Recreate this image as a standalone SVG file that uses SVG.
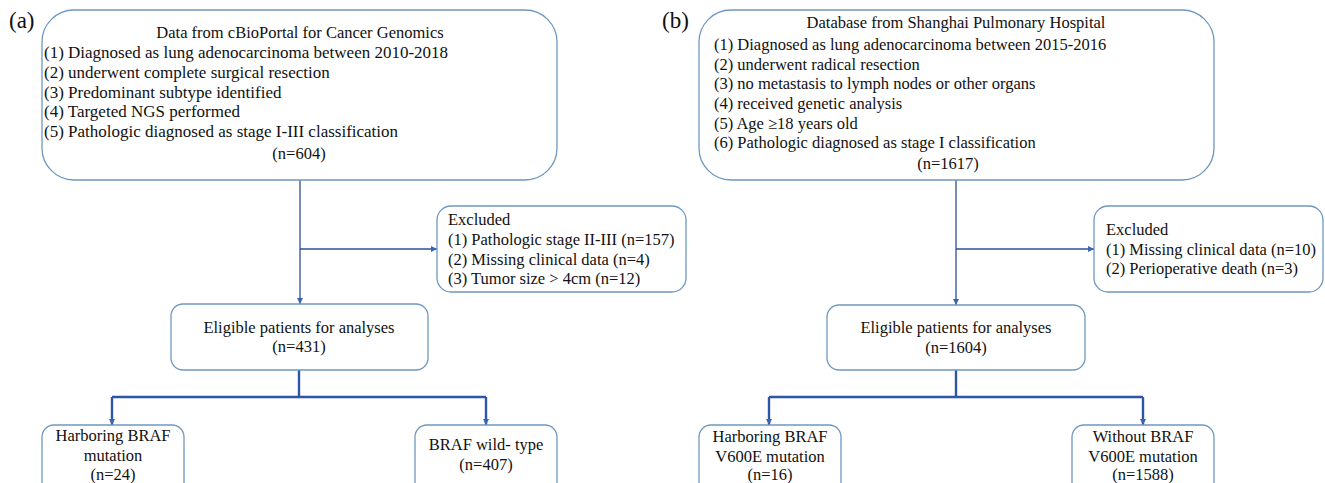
<svg xmlns="http://www.w3.org/2000/svg" width="1325" height="483" viewBox="0 0 1325 483">
<style>
text{font-family:"Liberation Serif","Times New Roman",serif;fill:#111;}
.t{font-size:16.5px;}
.tl{font-size:17px;}
.lab{font-size:23px;}
.c{text-anchor:middle;}
.box{fill:#fff;stroke:#6f98c0;stroke-width:1.3;}
.ln{fill:none;stroke:#2f4f9a;stroke-width:1.3;}
.br{fill:none;stroke:#2f55a8;stroke-width:2.4;}
</style>
<defs>
<marker id="ah" viewBox="0 0 10 10" refX="10" refY="5" markerWidth="6" markerHeight="6" markerUnits="userSpaceOnUse" orient="auto">
<path d="M0,0 L10,5 L0,10 z" fill="#3a62b5"/>
</marker>
</defs>
<rect width="1325" height="483" fill="#fff"/>
<text class="lab" x="9" y="28">(a)</text>
<text class="lab" x="662" y="28">(b)</text>

<g id="connectors">
<path class="ln" d="M300,180 V304" marker-end="url(#ah)"/>
<path class="ln" d="M300,249 H437" marker-end="url(#ah)"/>
<path class="br" d="M299,370 V397"/>
<path class="br" d="M112,397 H486"/>
<path class="br" d="M112,397 V425" marker-end="url(#ah)"/>
<path class="br" d="M486,397 V425" marker-end="url(#ah)"/>
<path class="ln" d="M956,180 V305" marker-end="url(#ah)"/>
<path class="ln" d="M956,249 H1094" marker-end="url(#ah)"/>
<path class="br" d="M956,370 V397"/>
<path class="br" d="M769,397 H1143"/>
<path class="br" d="M769,397 V425" marker-end="url(#ah)"/>
<path class="br" d="M1143,397 V425" marker-end="url(#ah)"/>
</g>

<g id="a-source">
<rect class="box" x="42" y="10" width="515" height="170" rx="32"/>
<text class="t c" x="300" y="38">Data from cBioPortal for Cancer Genomics</text>
<text class="tl" x="44" y="58">(1) Diagnosed as lung adenocarcinoma between 2010-2018</text>
<text class="tl" x="44" y="78">(2) underwent complete surgical resection</text>
<text class="tl" x="44" y="97.5">(3) Predominant subtype identified</text>
<text class="tl" x="44" y="117">(4) Targeted NGS performed</text>
<text class="tl" x="44" y="136.5">(5) Pathologic diagnosed as stage I-III classification</text>
<text class="t c" x="299" y="159">(n=604)</text>
</g>
<g id="a-excluded">
<rect class="box" x="437" y="206" width="249" height="86" rx="14"/>
<text class="t" x="448" y="225">Excluded</text>
<text class="t" x="448" y="245">(1) Pathologic stage II-III (n=157)</text>
<text class="t" x="448" y="264.5">(2) Missing clinical data (n=4)</text>
<text class="t" x="448" y="284">(3) Tumor size &gt; 4cm (n=12)</text>
</g>
<g id="a-eligible">
<rect class="box" x="171" y="304" width="257" height="66" rx="12"/>
<text class="t c" x="299" y="333">Eligible patients for analyses</text>
<text class="t c" x="299" y="352">(n=431)</text>
</g>
<g id="a-mut">
<rect class="box" x="42" y="425" width="142" height="70" rx="12"/>
<text class="t c" x="113" y="441">Harboring BRAF</text>
<text class="t c" x="113" y="461">mutation</text>
<text class="t c" x="113" y="480">(n=24)</text>
</g>
<g id="a-wild">
<rect class="box" x="415" y="425" width="142" height="70" rx="12"/>
<text class="t c" x="486" y="450">BRAF wild- type</text>
<text class="t c" x="486" y="470">(n=407)</text>
</g>

<g id="b-source">
<rect class="box" x="699" y="10" width="515" height="170" rx="32"/>
<text class="t c" x="956" y="28">Database from Shanghai Pulmonary Hospital</text>
<text class="t" x="714" y="50">(1) Diagnosed as lung adenocarcinoma between 2015-2016</text>
<text class="t" x="714" y="69.5">(2) underwent radical resection</text>
<text class="t" x="714" y="89">(3) no metastasis to lymph nodes or other organs</text>
<text class="t" x="714" y="109">(4) received genetic analysis</text>
<text class="t" x="714" y="128.5">(5) Age ≥18 years old</text>
<text class="t" x="714" y="148">(6) Pathologic diagnosed as stage I classification</text>
<text class="t c" x="948" y="169">(n=1617)</text>
</g>
<g id="b-excluded">
<rect class="box" x="1094" y="206" width="229" height="86" rx="14"/>
<text class="t" x="1106" y="235">Excluded</text>
<text class="t" x="1106" y="254.5">(1) Missing clinical data (n=10)</text>
<text class="t" x="1106" y="274">(2) Perioperative death (n=3)</text>
</g>
<g id="b-eligible">
<rect class="box" x="827" y="305" width="258" height="65" rx="12"/>
<text class="t c" x="956" y="333">Eligible patients for analyses</text>
<text class="t c" x="956" y="353">(n=1604)</text>
</g>
<g id="b-mut">
<rect class="box" x="699" y="425" width="142" height="70" rx="12"/>
<text class="t c" x="770" y="442">Harboring BRAF</text>
<text class="t c" x="770" y="462">V600E mutation</text>
<text class="t c" x="770" y="480">(n=16)</text>
</g>
<g id="b-without">
<rect class="box" x="1072" y="425" width="142" height="70" rx="12"/>
<text class="t c" x="1143" y="442">Without BRAF</text>
<text class="t c" x="1143" y="462">V600E mutation</text>
<text class="t c" x="1143" y="480">(n=1588)</text>
</g>
</svg>
